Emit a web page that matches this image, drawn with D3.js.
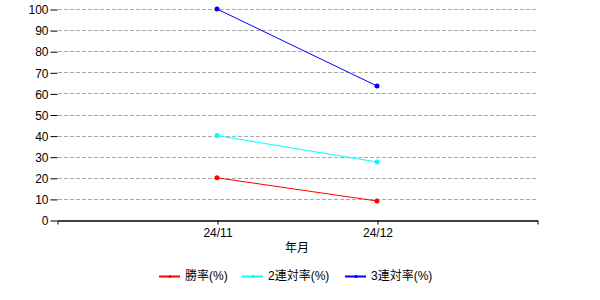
<!DOCTYPE html>
<html lang="ja">
<head>
    <meta charset="UTF-8">
    <title>年月別 勝率</title>
    <script src="https://d3js.org/d3.v7.min.js"></script>
    <style>
        body { margin: 0; background: #fff; }
        svg text { font-family: "Liberation Sans", "Noto Sans CJK JP", sans-serif; font-size: 12px; fill: #000; }
        .grid line { stroke: #aaa; stroke-dasharray: 4,2; }
    </style>
</head>
<body>
    <svg width="600" height="300"></svg>
    <script>
        const months = ["24/11", "24/12"];
        const seriesNames = ["勝率(%)", "2連対率(%)", "3連対率(%)"];
        const seriesColors = ["#ff0000", "#00ffff", "#0000ff"];
        const winRate = [20, 9];
        const top2Rate = [40, 27.5];
        const top3Rate = [100, 63.5];
        const yTicks = [0, 10, 20, 30, 40, 50, 60, 70, 80, 90, 100];

        const series = [winRate, top2Rate, top3Rate];
        const svg = d3.select("svg");
        const plotLeft = 57, plotRight = 537, plotTop = 9, plotBottom = 220;

        const x = d3.scaleLinear().domain([0, months.length + 1]).range([plotLeft, plotRight]);
        const y = d3.scaleLinear().domain([0, 100]).range([plotBottom, plotTop]);

        // grid
        svg.append("g").attr("class", "grid")
           .selectAll("line").data(yTicks.filter(d => d > 0)).enter().append("line")
           .attr("x1", plotLeft + 1).attr("x2", plotRight)
           .attr("y1", d => Math.round(y(d)) + 0.5).attr("y2", d => Math.round(y(d)) + 0.5);

        // y axis
        const yAxis = svg.append("g").attr("transform", `translate(${plotLeft + 0.5},0.5)`)
           .call(d3.axisLeft(y).tickValues(yTicks).tickSize(7).tickSizeOuter(0).tickPadding(2));
        yAxis.select(".domain").remove();
        yAxis.selectAll("line").attr("stroke", "#000");
        yAxis.selectAll("text").attr("dy", "0.35em");

        // x axis
        const xAxis = svg.append("g").attr("transform", `translate(0.5,${plotBottom + 0.5})`)
           .call(d3.axisBottom(x).tickValues([0, 1, 2, 3]).tickSize(4)
                 .tickFormat(d => months[d - 1] || "").tickSizeOuter(0).tickPadding(4));
        xAxis.select(".domain").attr("stroke", "#000").attr("stroke-width", 1.5);
        xAxis.selectAll("line").attr("stroke", "#000");

        svg.append("text").attr("x", (x(1) + x(2)) / 2).attr("y", 252)
           .attr("text-anchor", "middle").text("年月");

        // lines
        const line = d3.line().x((d, i) => x(i + 1)).y(d => y(d));
        series.forEach((s, k) => {
            svg.append("path").datum(s).attr("d", line)
               .attr("fill", "none").attr("stroke", seriesColors[k]).attr("stroke-width", 1);
            svg.selectAll(null).data(s).enter().append("circle")
               .attr("cx", (d, i) => x(i + 1)).attr("cy", d => y(d)).attr("r", 2.5)
               .attr("fill", seriesColors[k]);
        });

        // legend
        const legendX = [159, 242, 345];
        const legend = svg.append("g").attr("transform", "translate(0,276)");
        seriesNames.forEach((name, k) => {
            const g = legend.append("g").attr("transform", `translate(${legendX[k]},0)`);
            g.append("line").attr("x1", 0).attr("x2", 21).attr("y1", 0.5).attr("y2", 0.5)
             .attr("stroke", seriesColors[k]).attr("stroke-width", 2);
            g.append("circle").attr("cx", 11).attr("cy", 0.5).attr("r", 1.5).attr("fill", seriesColors[k]);
            g.append("text").attr("x", 26).attr("y", 0).attr("dy", "0.35em").text(name);
        });
    </script>
</body>
</html>
